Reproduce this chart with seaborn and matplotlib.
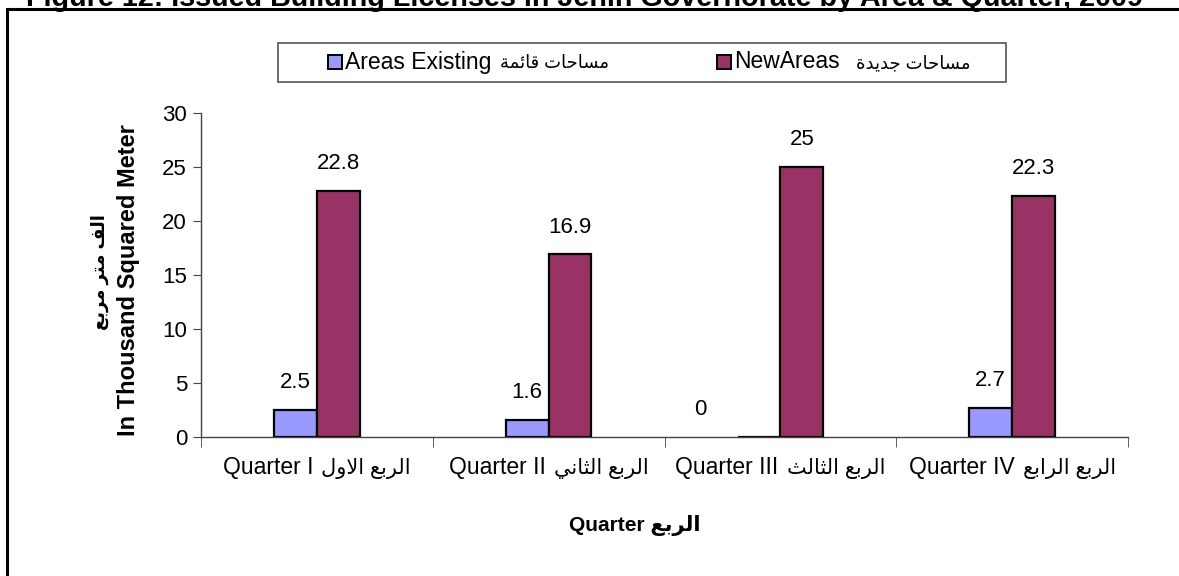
import pandas as pd
import matplotlib.pyplot as plt
import seaborn as sns
from matplotlib.patches import Rectangle
from matplotlib.ticker import FixedLocator
from matplotlib.offsetbox import TextArea, HPacker, AnnotationBbox

# presentation forms: isolated, final, initial, medial
AR_FORMS = {
    'ا': (0xFE8D, 0xFE8E, None, None),
    'ب': (0xFE8F, 0xFE90, 0xFE91, 0xFE92),
    'ة': (0xFE93, 0xFE94, None, None),
    'ت': (0xFE95, 0xFE96, 0xFE97, 0xFE98),
    'ث': (0xFE99, 0xFE9A, 0xFE9B, 0xFE9C),
    'ج': (0xFE9D, 0xFE9E, 0xFE9F, 0xFEA0),
    'ح': (0xFEA1, 0xFEA2, 0xFEA3, 0xFEA4),
    'د': (0xFEA9, 0xFEAA, None, None),
    'ر': (0xFEAD, 0xFEAE, None, None),
    'س': (0xFEB1, 0xFEB2, 0xFEB3, 0xFEB4),
    'ع': (0xFEC9, 0xFECA, 0xFECB, 0xFECC),
    'ف': (0xFED1, 0xFED2, 0xFED3, 0xFED4),
    'ق': (0xFED5, 0xFED6, 0xFED7, 0xFED8),
    'ل': (0xFEDD, 0xFEDE, 0xFEDF, 0xFEE0),
    'م': (0xFEE1, 0xFEE2, 0xFEE3, 0xFEE4),
    'ن': (0xFEE5, 0xFEE6, 0xFEE7, 0xFEE8),
    'و': (0xFEED, 0xFEEE, None, None),
    'ي': (0xFEF1, 0xFEF2, 0xFEF3, 0xFEF4),
    'ئ': (0xFE89, 0xFE8A, 0xFE8B, 0xFE8C),
    'لا': (0xFEFB, 0xFEFC, None, None),
}


def ar(text):
    # tiny shaper: contextual forms + visual (reversed) order
    units = []
    i = 0
    while i < len(text):
        if text[i] == 'ل' and i + 1 < len(text) and text[i + 1] == 'ا':
            units.append('لا')
            i += 2
        else:
            units.append(text[i])
            i += 1
    out = []
    for k, u in enumerate(units):
        if u not in AR_FORMS:
            out.append(u)
            continue
        f = AR_FORMS[u]
        prev = units[k - 1] if k > 0 else None
        nxt = units[k + 1] if k + 1 < len(units) else None
        jp = prev in AR_FORMS and AR_FORMS[prev][2] is not None
        jn = f[2] is not None and nxt in AR_FORMS
        if jp and jn:
            c = f[3]
        elif jp:
            c = f[1]
        elif jn:
            c = f[2]
        else:
            c = f[0]
        out.append(chr(c))
    return ''.join(out[::-1])


quarter_en = ["Quarter I", "Quarter II", "Quarter III", "Quarter IV"]
quarter_ar = ["الربع الاول", "الربع الثاني", "الربع الثالث", "الربع الرابع"]
existing = [2.5, 1.6, 0, 2.7]
new_areas = [22.8, 16.9, 25, 22.3]
series_en = ["Areas Existing", "NewAreas"]
series_ar = ["مساحات قائمة", "مساحات جديدة"]
colors = ["#9999FF", "#993366"]

df = pd.DataFrame({
    "quarter": quarter_en * 2,
    "value": existing + new_areas,
    "type": [series_en[0]] * 4 + [series_en[1]] * 4,
})

FONT = ['Liberation Sans', 'DejaVu Sans']
plt.rcParams['font.family'] = FONT

W, H = 1179, 576
fig = plt.figure(figsize=(W / 100, H / 100), dpi=100)
ax = fig.add_axes([201 / W, 1 - 437 / H, (1128 - 201) / W, (437 - 113) / H])

sns.barplot(data=df, x="quarter", y="value", hue="type", hue_order=series_en,
            order=quarter_en, palette=colors, width=0.37, edgecolor="black",
            linewidth=1.6, saturation=1, legend=False, ax=ax)

for cont in ax.containers:
    labels = ax.bar_label(cont, labels=[f"{v:g}" for v in cont.datavalues],
                          padding=12, fontsize=16)
    for lab, v in zip(labels, cont.datavalues):
        if v == 0:
            # the zero label sits left of its (empty) bar in the original
            lab.xyann = (-42, lab.xyann[1])

ax.set_xlim(-0.5, 3.5)
ax.set_ylim(0, 30)
ax.set_yticks(range(0, 31, 5))
ax.tick_params(axis='y', labelsize=16, length=6, color='#444444', pad=4)
ax.tick_params(axis='x', which='major', length=0, labelbottom=False)
ax.xaxis.set_minor_locator(FixedLocator([-0.5, 0.5, 1.5, 2.5, 3.5]))
ax.tick_params(axis='x', which='minor', length=7, color='#444444')
for s in ['top', 'right']:
    ax.spines[s].set_visible(False)
for s in ['left', 'bottom']:
    ax.spines[s].set_color('#444444')
    ax.spines[s].set_linewidth(1)
ax.set_facecolor('white')

# category labels: latin part a bit larger than the arabic part
for i, (en, a) in enumerate(zip(quarter_en, quarter_ar)):
    box = HPacker(children=[TextArea(en, textprops=dict(fontsize=16.5)),
                            TextArea(ar(a), textprops=dict(fontsize=15))],
                  sep=6, pad=0, align='baseline')
    ax.add_artist(AnnotationBbox(box, (i, 0), xycoords=('data', 'axes fraction'),
                                 xybox=(0, -22), boxcoords='offset points',
                                 frameon=False, box_alignment=(0.5, 0.5),
                                 annotation_clip=False))

ax.set_xlabel("")
ax.set_ylabel("")
fig.text(635 / W, 1 - 525 / H, "Quarter " + ar("الربع"), ha='center',
         va='center', fontsize=15, fontweight='bold')
fig.text(128 / W, 1 - 280 / H, "In Thousand Squared Meter", rotation=90,
         ha='center', va='center', fontsize=17, fontweight='bold')
fig.text(100 / W, 1 - 272 / H, ar("الف متر مربع"), rotation=90,
         ha='center', va='center', fontsize=13, fontweight='bold')

# legend box
fig.add_artist(Rectangle((278 / W, 1 - 82 / H), (1006 - 278) / W, 39 / H,
                         transform=fig.transFigure, fill=False,
                         edgecolor='#555555', linewidth=1.2))
for x0, c, en, a, sep in [(328, colors[0], series_en[0], series_ar[0], 6),
                          (717, colors[1], series_en[1], series_ar[1], 12)]:
    fig.add_artist(Rectangle((x0 / W, 1 - 69 / H), 14 / W, 14 / H,
                             transform=fig.transFigure, facecolor=c,
                             edgecolor='black', linewidth=1.4))
    box = HPacker(children=[TextArea(en, textprops=dict(fontsize=16.5)),
                            TextArea(ar(a), textprops=dict(fontsize=13))],
                  sep=sep, pad=0, align='baseline')
    fig.add_artist(AnnotationBbox(box, ((x0 + 17) / W, 1 - 62 / H),
                                  xycoords='figure fraction', frameon=False,
                                  box_alignment=(0, 0.5)))

# outer frame
fig.add_artist(Rectangle((7 / W, -0.2), 1.3, 1.2 - 9 / H,
                         transform=fig.transFigure, fill=False,
                         edgecolor='black', linewidth=2.2))

title = fig.text(584 / W, 1 - 6 / H,
                 "Figure 12: Issued Building Licenses in Jenin Governorate by Area & Quarter, 2009",
                 ha='center', va='baseline', fontsize=16, fontweight='bold')
fig.canvas.draw()
w = title.get_window_extent().width
title.set_fontsize(16 * 1117 / w)

fig.savefig("out.png", dpi=100, facecolor='white')
